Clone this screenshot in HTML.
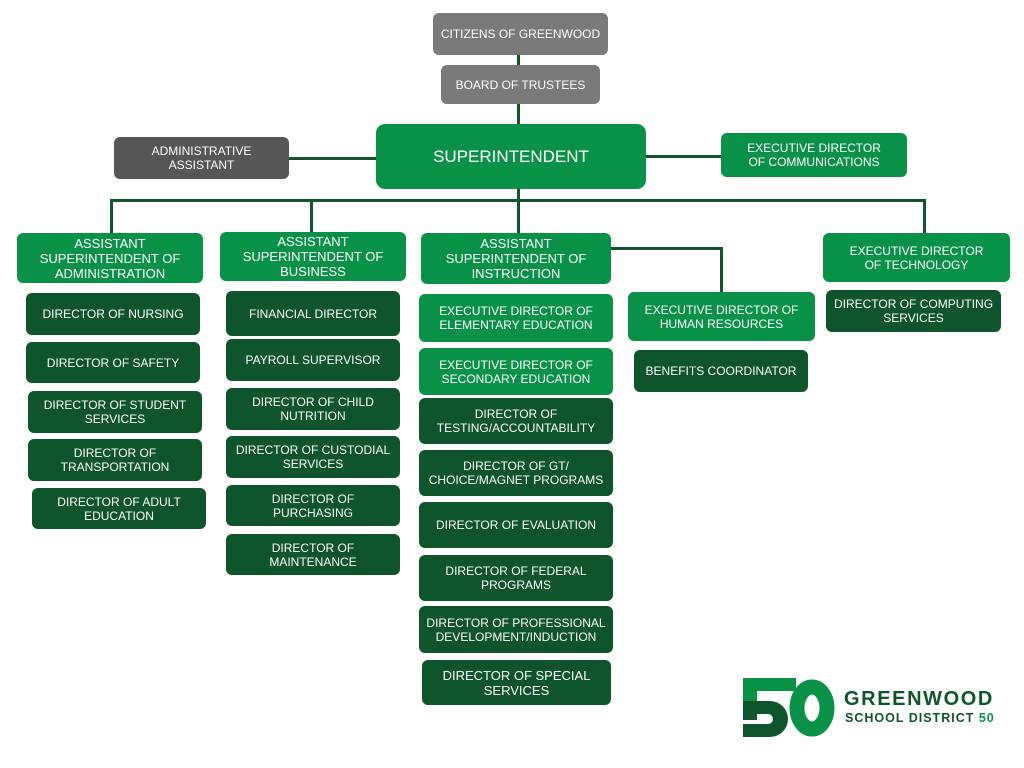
<!DOCTYPE html>
<html><head><meta charset="utf-8"><style>
body{margin:0;width:1024px;height:768px;background:#fff;position:relative;overflow:hidden;font-family:"Liberation Sans",sans-serif;}
.b{position:absolute;display:flex;align-items:center;justify-content:center;text-align:center;color:#fff;font-size:12px;line-height:14px;border-radius:6px;box-sizing:border-box;padding:0;white-space:nowrap}
.g{background:#0a9148}.d{background:#0f552b}.gr{background:#7a7a7a}.dg{background:#565656}
.l{position:absolute;background:#14552d}
</style></head><body>
<div class="l" style="left:517px;top:55px;width:3px;height:70px"></div>
<div class="l" style="left:289px;top:157px;width:90px;height:3px"></div>
<div class="l" style="left:644px;top:155px;width:78px;height:3px"></div>
<div class="l" style="left:517px;top:189px;width:3px;height:45px"></div>
<div class="l" style="left:110px;top:199px;width:816px;height:3px"></div>
<div class="l" style="left:110px;top:199px;width:3px;height:35px"></div>
<div class="l" style="left:310px;top:199px;width:3px;height:34px"></div>
<div class="l" style="left:923px;top:199px;width:3px;height:35px"></div>
<div class="l" style="left:609px;top:247px;width:114px;height:3px"></div>
<div class="l" style="left:720px;top:247px;width:3px;height:46px"></div>

<div class="b gr" style="left:433px;top:13px;width:175px;height:42px">CITIZENS OF GREENWOOD</div>
<div class="b gr" style="left:441px;top:65px;width:159px;height:39px">BOARD OF TRUSTEES</div>
<div class="b g" style="left:376px;top:124px;width:270px;height:65px;font-size:17px;border-radius:9px">SUPERINTENDENT</div>
<div class="b dg" style="left:114px;top:137px;width:175px;height:42px">ADMINISTRATIVE<br>ASSISTANT</div>
<div class="b g" style="left:721px;top:133px;width:186px;height:44px">EXECUTIVE DIRECTOR<br>OF COMMUNICATIONS</div>

<div class="b g" style="left:17px;top:233px;width:186px;height:50px;font-size:13px;line-height:15px">ASSISTANT<br>SUPERINTENDENT OF<br>ADMINISTRATION</div>
<div class="b g" style="left:220px;top:232px;width:186px;height:49px;font-size:13px;line-height:15px">ASSISTANT<br>SUPERINTENDENT OF<br>BUSINESS</div>
<div class="b g" style="left:421px;top:233px;width:190px;height:51px;font-size:13px;line-height:15px">ASSISTANT<br>SUPERINTENDENT OF<br>INSTRUCTION</div>
<div class="b g" style="left:823px;top:233px;width:187px;height:49px">EXECUTIVE DIRECTOR<br>OF TECHNOLOGY</div>

<div class="b d" style="left:26px;top:293px;width:174px;height:42px">DIRECTOR OF NURSING</div>
<div class="b d" style="left:26px;top:342px;width:174px;height:41px">DIRECTOR OF SAFETY</div>
<div class="b d" style="left:28px;top:391px;width:174px;height:42px">DIRECTOR OF STUDENT<br>SERVICES</div>
<div class="b d" style="left:28px;top:439px;width:174px;height:42px">DIRECTOR OF<br>TRANSPORTATION</div>
<div class="b d" style="left:32px;top:488px;width:174px;height:41px">DIRECTOR OF ADULT<br>EDUCATION</div>

<div class="b d" style="left:226px;top:291px;width:174px;height:45px">FINANCIAL DIRECTOR</div>
<div class="b d" style="left:226px;top:339px;width:174px;height:42px">PAYROLL SUPERVISOR</div>
<div class="b d" style="left:226px;top:388px;width:174px;height:42px">DIRECTOR OF CHILD<br>NUTRITION</div>
<div class="b d" style="left:226px;top:436px;width:174px;height:42px">DIRECTOR OF CUSTODIAL<br>SERVICES</div>
<div class="b d" style="left:226px;top:485px;width:174px;height:41px">DIRECTOR OF<br>PURCHASING</div>
<div class="b d" style="left:226px;top:534px;width:174px;height:41px">DIRECTOR OF<br>MAINTENANCE</div>

<div class="b g" style="left:419px;top:294px;width:194px;height:48px">EXECUTIVE DIRECTOR OF<br>ELEMENTARY EDUCATION</div>
<div class="b g" style="left:419px;top:348px;width:194px;height:47px">EXECUTIVE DIRECTOR OF<br>SECONDARY EDUCATION</div>
<div class="b d" style="left:419px;top:398px;width:194px;height:46px">DIRECTOR OF<br>TESTING/ACCOUNTABILITY</div>
<div class="b d" style="left:419px;top:450px;width:194px;height:46px">DIRECTOR OF GT/<br>CHOICE/MAGNET PROGRAMS</div>
<div class="b d" style="left:419px;top:502px;width:194px;height:46px">DIRECTOR OF EVALUATION</div>
<div class="b d" style="left:419px;top:555px;width:194px;height:46px">DIRECTOR OF FEDERAL<br>PROGRAMS</div>
<div class="b d" style="left:419px;top:606px;width:194px;height:47px">DIRECTOR OF PROFESSIONAL<br>DEVELOPMENT/INDUCTION</div>
<div class="b d" style="left:422px;top:660px;width:189px;height:45px;font-size:13px;line-height:15px">DIRECTOR OF SPECIAL<br>SERVICES</div>

<div class="b g" style="left:628px;top:292px;width:187px;height:49px">EXECUTIVE DIRECTOR OF<br>HUMAN RESOURCES</div>
<div class="b d" style="left:634px;top:350px;width:174px;height:42px">BENEFITS COORDINATOR</div>
<div class="b d" style="left:826px;top:290px;width:175px;height:42px">DIRECTOR OF COMPUTING<br>SERVICES</div>

<svg style="position:absolute;left:740px;top:675px" width="100" height="65">
<rect x="3" y="3" width="53" height="13" fill="#0a9148"/>
<rect x="3" y="16" width="14" height="10" fill="#0a9148"/>
<path d="M3 26 H30 A18 18 0 0 1 30 62 H3 V49 H28 A5 5 0 0 0 28 39 H17 V45 H3 Z" fill="#0f552b"/>
<ellipse cx="72" cy="33" rx="15" ry="21" fill="none" stroke="#0a9148" stroke-width="15"/>
</svg>
<div style="position:absolute;left:844px;top:688px;font-size:20px;font-weight:bold;color:#0f552b;letter-spacing:1.6px">GREENWOOD</div>
<div style="position:absolute;left:845px;top:711px;font-size:12.5px;font-weight:bold;color:#0f552b;letter-spacing:1px">SCHOOL DISTRICT <span style="color:#0a9148">50</span></div>
</body></html>
